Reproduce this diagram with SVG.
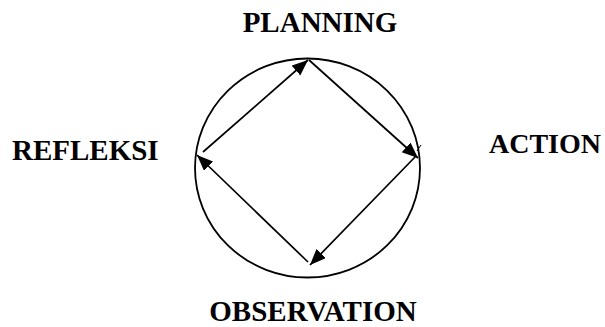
<svg xmlns="http://www.w3.org/2000/svg" width="605" height="327" viewBox="0 0 605 327">
<style>
.lbl{font-family:"Liberation Serif","Times New Roman",serif;font-weight:bold;font-size:29px;fill:#000}
.ring{fill:none;stroke:#000;stroke-width:1.8}
.edge{fill:none;stroke:#000;stroke-width:1.7;marker-end:url(#ah)}
</style>
<defs>
<marker id="ah" markerUnits="userSpaceOnUse" markerWidth="18" markerHeight="14" refX="16" refY="6.5" orient="auto">
<path d="M0,0 L16,6.5 L0,13 z" fill="#000"/>
</marker>
</defs>
<g id="cycle">
<ellipse class="ring" cx="307.5" cy="168" rx="112.5" ry="109.5"/>
</g>
<g id="connectors">
<line class="edge" x1="203" y1="152" x2="308" y2="60"/>
<line class="edge" x1="309" y1="60" x2="418" y2="158"/>
<line class="edge" x1="416" y1="156" x2="310" y2="265"/>
<line class="edge" x1="308" y1="262" x2="197" y2="155"/>
<line x1="417" y1="151" x2="421" y2="145" stroke="#000" stroke-width="1"/>
</g>
<g id="planning"><text class="lbl" x="320" y="32" text-anchor="middle">PLANNING</text></g>
<g id="action"><text class="lbl" x="489" y="153" style="font-size:28px">ACTION</text></g>
<g id="observation"><text class="lbl" x="313" y="321" text-anchor="middle">OBSERVATION</text></g>
<g id="refleksi"><text class="lbl" x="12" y="160">REFLEKSI</text></g>
</svg>
